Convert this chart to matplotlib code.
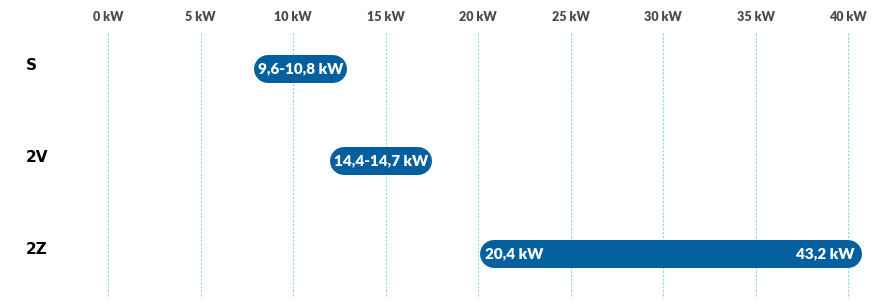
import numpy as np
from matplotlib import pyplot as plt

# data
categories = ['S', '2V', '2Z']
start_kw = [9.6, 14.4, 20.4]
end_kw = [10.8, 14.7, 43.2]
labels = ['9,6-10,8 kW', '14,4-14,7 kW', '']
ticks = [0, 5, 10, 15, 20, 25, 30, 35, 40]
tick_labels = ['%d kW' % t for t in ticks]

blue = '#035f9e'
grid_blue = '#8fd0f5'
dpi = 100

fig = plt.figure(figsize=(8.83, 3.08), dpi=dpi)
ax = fig.add_axes([0, 0, 1, 1])
ax.set_xlim(-5.84, 41.89)
ax.set_ylim(2.61, -0.74)
ax.axis('off')

# vertical dashed grid lines
ax.vlines(ticks, -0.38, 2.50, colors=grid_blue, linestyles=(0, (2, 1.5)), lw=0.8, zorder=0)
for t, lab in zip(ticks, tick_labels):
    ax.text(t, -0.56, lab, ha='center', va='center', fontsize=9, color='#4a4a4a',
            fontfamily='Lato', fontweight='heavy')

# category labels
for i, c in enumerate(categories):
    ax.text(-4.45, i - 0.03, c, ha='left', va='center', fontsize=11,
            fontweight='bold', color='black', fontfamily='DejaVu Sans')

pill_lw = 28 * 72 / dpi
px_per_kw = ax.transData.transform((1, 0))[0] - ax.transData.transform((0, 0))[0]
renderer = fig.canvas.get_renderer()
for i in range(len(categories)):
    s, e = start_kw[i], end_kw[i]
    if labels[i]:
        # short range: pill sized to the label
        mid = (s + e) / 2 + 0.2
        t = ax.text(mid, i + 0.01, labels[i], ha='center', va='center', fontsize=11,
                    color='white', fontfamily='Lato', fontweight='heavy', zorder=3)
        half = (t.get_window_extent(renderer).width - 21) / 2 / px_per_kw
        ax.plot([mid - half, mid + half], [i + 0.01, i + 0.01], color=blue, lw=pill_lw,
                solid_capstyle='round', zorder=2)
    else:
        e_draw = min(e, ticks[-1])
        ax.plot([s + 0.45, e_draw], [i + 0.02, i + 0.02], color=blue, lw=pill_lw,
                solid_capstyle='round', zorder=2)
        ax.text(s, i + 0.02, '%s kW' % ('%.1f' % s).replace('.', ','), ha='left', va='center',
                fontsize=11, color='white', fontfamily='Lato', fontweight='heavy', zorder=3)
        ax.text(e_draw + 0.35, i + 0.02, '%s kW' % ('%.1f' % e).replace('.', ','), ha='right',
                va='center', fontsize=11, color='white', fontfamily='Lato', fontweight='heavy',
                zorder=3)

plt.savefig('out.png', dpi=dpi)
